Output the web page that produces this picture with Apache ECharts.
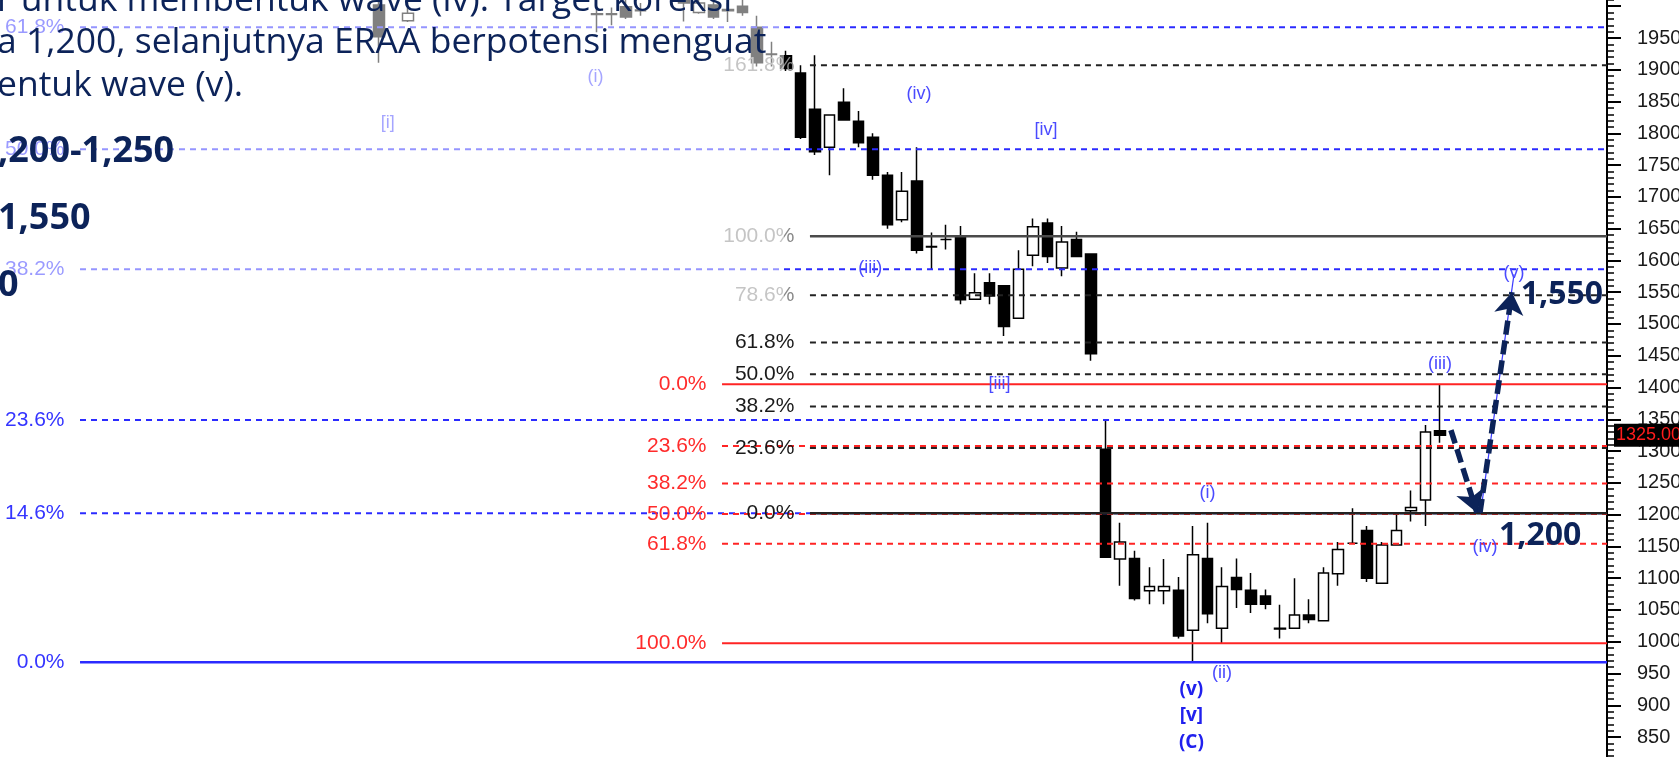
<!DOCTYPE html>
<html><head><meta charset="utf-8">
<script src="https://cdn.jsdelivr.net/npm/echarts@6/dist/echarts.min.js"></script>
<style>html,body{margin:0;padding:0;background:#fff;overflow:hidden;width:1679px;height:757px;position:relative}
#c{position:absolute;left:-6px;top:-26px;width:1685px;height:796px}</style>
</head><body><div id="c"></div>
<script>
// ---------- data ----------
const slotCount = 111;
const slots = Array.from({length: slotCount}, (_, i) => 'D' + i);

const candleSlots = [26,28,41,42,43,44,47,48,49,50,51,52,53,
  54,55,56,57,58,59,60,61,62,63,64,65,66,67,68,69,70,71,72,73,74,75,76,77,78,79,80,81,82,83,84,85,86,87,88,89,90,91,92,93,94,95,96,97,98,99];
const opens  = [2002,1977,1988,1988,1999,1994,2015,1990,2002,1995,2000,1967,1925,
  1922,1895,1838,1778,1849,1819,1794,1734,1664,1725,1622,1633,1638,1539,1565,1560,1509,1608,1659,1588,1633,1610,
  1303,1130,1131,1080,1080,1081,1018,1131,1021,1101,1081,1072,1021,1021,1042,1033,1107,1155,1175,1092,1152,1206,1223,1332];
const closes = [1952,1989,1987,1987,1983,1993,2005,2005,1983,1993,1990,1911,1924,
  1902,1794,1771,1829,1821,1785,1734,1656,1709,1616,1621,1633,1538,1549,1544,1496,1586,1653,1606,1629,1606,1453,
  1133,1157,1068,1087,1087,1009,1137,1044,1087,1082,1059,1059,1020,1042,1035,1108,1145,1155,1100,1152,1175,1211,1330,1325];
const lows   = [1911,1975,1959,1970,1980,1985,1976,1988,1980,1975,1985,1905,1905,
  1898,1791,1766,1734,1820,1778,1727,1650,1660,1611,1586,1617,1531,1539,1531,1481,1509,1591,1596,1575,1605,1442,
  1132,1088,1065,1059,1059,1005,969,1029,997,1053,1045,1051,1005,1021,1029,1033,1088,1154,1094,1092,1152,1189,1182,1313];
const highs  = [2030,2030,2000,1998,2015,2005,2030,2030,2015,2005,2010,1985,1944,
  1930,1907,1923,1830,1871,1835,1800,1739,1739,1778,1644,1656,1654,1580,1580,1560,1616,1666,1666,1654,1645,1611,
  1349,1187,1143,1117,1130,1102,1182,1187,1117,1131,1108,1082,1058,1100,1067,1117,1157,1210,1182,1157,1202,1238,1341,1404];
const lastPrice = 1325;

const priceTicks = [850,900,950,1000,1050,1100,1150,1200,1250,1300,1350,1400,1450,1500,1550,1600,1650,1700,1750,1800,1850,1900,1950];

const blueLevels  = [1967, 1775, 1586, 1349, 1202, 967.6];
const blueLabels  = ['61.8%','50.0%','38.2%','23.6%','14.6%','0.0%'];
const redLevels   = [1405, 1308, 1249, 1201, 1154, 997.5];
const redLabels   = ['0.0%','23.6%','38.2%','50.0%','61.8%','100.0%'];
const blackLevels = [1907, 1638, 1545, 1471, 1421, 1370, 1305, 1202];
const blackLabels = ['161.8%','100.0%','78.6%','61.8%','50.0%','38.2%','23.6%','0.0%'];

const waveText  = ['(i)','[i]','(iv)','[iv]','(iii)','[iii]','(i)','(ii)','(iii)','(v)','(iv)'];
const waveSlot  = [40.9, 26.6, 63.15, 71.9, 59.8, 68.7, 83.0, 84.0, 99.0, 104.1, 102.1];
const wavePrice = [1889, 1816, 1862, 1805, 1588, 1405, 1234, 951, 1437, 1580, 1149];

const majorText  = ['(v)','[v]','(C)'];
const majorSlot  = 81.9;
const majorPrice = [924, 883, 842];

const targetText  = ['1,550','1,200'];
const targetSlot  = [107.4, 105.9];
const targetPrice = [1546, 1166];

const arrowDown = [[99.76, 1333], [101.55, 1203]];
const arrowUp   = [[101.76, 1203], [103.96, 1550]];
const waveLine  = [[101.8, 1203], [104.1, 1578]];

const noteLines = ['r untuk membentuk wave (iv). Target koreksi',
                   'a 1,200, selanjutnya ERAA berpotensi menguat',
                   'entuk wave (v).'];
const boldLines = [',200-1,250', '1,550', '0'];

// ---------- layout / style ----------
const OX = 6, OY = 26;   // the chart canvas is shifted by this much (see CSS)
const NARROW = '"Liberation Sans","Arial",sans-serif';
const SANS = '"Open Sans","Noto Sans",sans-serif';
const NAVY = '#0c2359';
const CLEAR = 'rgba(0,0,0,0)';
const blueStart = 5.42, redStart = 49.6, blackStart = 55.65, lineEnd = 110.5;
const plainLabel = {textBorderWidth: 0, textBorderColor: CLEAR, textShadowBlur: 0};
const hiddenItem = {color: CLEAR, opacity: 1};

const candleData = candleSlots.map((s, i) => [s, opens[i], closes[i], lows[i], highs[i]]);

const series = [];
series.push({
  type: 'candlestick', xAxisIndex: 0, yAxisIndex: 0, z: 2, clip: true,
  barWidth: 11,
  encode: {x: 0, y: [1, 2, 3, 4]},
  data: candleData,
  itemStyle: {color: '#ffffff', color0: '#000000', borderColor: '#000000', borderColor0: '#000000', borderWidth: 1.5},
  markLine: {
    silent: true, symbol: ['none','none'], animation: false,
    lineStyle: {color: CLEAR, width: 0, type: 'solid'},
    label: Object.assign({show: true, position: 'end', distance: 7, formatter: lastPrice.toFixed(2),
      backgroundColor: '#000', color: '#ff1c1c', fontSize: 18, fontFamily: NARROW, padding: [3, 1, 2, 2]}, plainLabel),
    data: [{yAxis: lastPrice}]
  }
});

function addFib(levels, labels, start, color, solidIdx, solidWidth, labelColorFn) {
  levels.forEach((lv, i) => {
    const solid = solidIdx.includes(i);
    series.push({
      type: 'line', xAxisIndex: 1, yAxisIndex: 0, symbol: 'none', silent: true, z: 3,
      lineStyle: {color: typeof color === 'function' ? color(i) : color, width: solid ? solidWidth : 2, type: solid ? 'solid' : [6, 5]},
      data: [[start, lv], [lineEnd, lv]]
    });
  });
  series.push({
    type: 'scatter', xAxisIndex: 1, yAxisIndex: 0, symbolSize: 1, silent: true, z: 4,
    itemStyle: hiddenItem,
    label: Object.assign({show: true, position: 'left', distance: 15, fontSize: 21, fontFamily: NARROW,
      formatter: p => p.data.t}, plainLabel),
    data: levels.map((lv, i) => ({value: [start, lv], t: labels[i], label: {color: labelColorFn(i)}}))
  });
}
addFib(blueLevels, blueLabels, blueStart, '#2b2bff', [5], 2.5, () => '#3535ff');
addFib(redLevels, redLabels, redStart, '#ff2424', [0, 5], 2, () => '#ff2b2b');
addFib(blackLevels, blackLabels, blackStart, i => (i === 1 ? '#4a4a4a' : '#222'), [1, 7], 2.5,
  i => ([0, 1, 2].includes(i) ? '#8a8a8a' : '#1a1a1a'));

series.push({
  type: 'scatter', xAxisIndex: 1, yAxisIndex: 0, symbolSize: 1, silent: true, z: 5,
  itemStyle: hiddenItem,
  label: Object.assign({show: true, position: 'inside', color: '#4a4aff', fontSize: 18, fontFamily: NARROW, formatter: p => p.data.t}, plainLabel),
  data: waveText.map((t, i) => ({value: [waveSlot[i], wavePrice[i]], t}))
});
series.push({
  type: 'scatter', xAxisIndex: 1, yAxisIndex: 0, symbolSize: 1, silent: true, z: 5,
  itemStyle: hiddenItem,
  label: Object.assign({show: true, position: 'inside', color: '#2020ee', fontSize: 19, fontWeight: 'bold', fontFamily: SANS, formatter: p => p.data.t}, plainLabel),
  data: majorText.map((t, i) => ({value: [majorSlot, majorPrice[i]], t}))
});
series.push({
  type: 'scatter', xAxisIndex: 1, yAxisIndex: 0, symbolSize: 1, silent: true, z: 6,
  itemStyle: hiddenItem,
  label: Object.assign({show: true, position: 'inside', color: NAVY, fontSize: 32, fontWeight: 'bold', fontFamily: SANS, formatter: p => p.data.t}, plainLabel),
  data: targetText.map((t, i) => ({value: [targetSlot[i], targetPrice[i]], t}))
});
series.push({
  type: 'lines', coordinateSystem: 'cartesian2d', xAxisIndex: 1, yAxisIndex: 0, silent: true, z: 5,
  symbol: ['none', 'none'],
  lineStyle: {color: '#3a3aff', width: 1.2, opacity: 1},
  data: [{coords: waveLine}]
});
series.push({
  type: 'lines', coordinateSystem: 'cartesian2d', xAxisIndex: 1, yAxisIndex: 0, silent: true, z: 6,
  symbol: ['none', 'arrow'], symbolSize: 22,
  lineStyle: {color: NAVY, width: 5.5, type: [14, 6], opacity: 1},
  data: [{coords: arrowDown}, {coords: arrowUp}]
});

const graphics = [
  {type: 'rect', z: 100, silent: true, shape: {x: OX, y: OY, width: 784, height: 305}, style: {fill: 'rgba(255,255,255,0.5)'}},
];
const noteY = [1, 43, 86];
noteLines.forEach((t, i) => graphics.push({type: 'text', z: 101, silent: true, x: OX - 3, y: OY + noteY[i],
  style: {text: t, fill: NAVY, fontSize: 35.5, fontFamily: SANS, align: 'left', verticalAlign: 'middle'}}));
const boldY = [152, 219, 286];
boldLines.forEach((t, i) => graphics.push({type: 'text', z: 101, silent: true, x: OX - 2, y: OY + boldY[i],
  style: {text: t, fill: NAVY, fontSize: 36, fontWeight: 'bold', fontFamily: SANS, align: 'left', verticalAlign: 'middle'}}));

const chart = echarts.init(document.getElementById('c'), null, {renderer: 'canvas'});
chart.setOption({
  animation: false,
  backgroundColor: '#ffffff',
  grid: {left: 0, right: 72, top: 0.45, bottom: 1.2, containLabel: false, outerBoundsMode: 'none'},
  xAxis: [
    {type: 'category', data: slots, boundaryGap: true, show: false},
    {type: 'value', min: -0.5, max: 110.5, show: false}
  ],
  yAxis: {
    type: 'value', position: 'right', min: 800, max: 2050, interval: 50, scale: false,
    axisLine: {show: true, onZero: false, lineStyle: {color: '#000', width: 2}},
    axisTick: {show: true, length: 14, lineStyle: {color: '#000', width: 2}},
    minorTick: {show: true, splitNumber: 5, length: 7, lineStyle: {color: '#000', width: 1.5}},
    splitLine: {show: false},
    axisLabel: {margin: 30, color: '#1a1a1a', fontSize: 20, fontFamily: NARROW, padding: [7, 0, 0, 0],
      formatter: v => (priceTicks.includes(v) ? String(v) : '')}
  },
  graphic: graphics,
  series
});
</script>
</body></html>
